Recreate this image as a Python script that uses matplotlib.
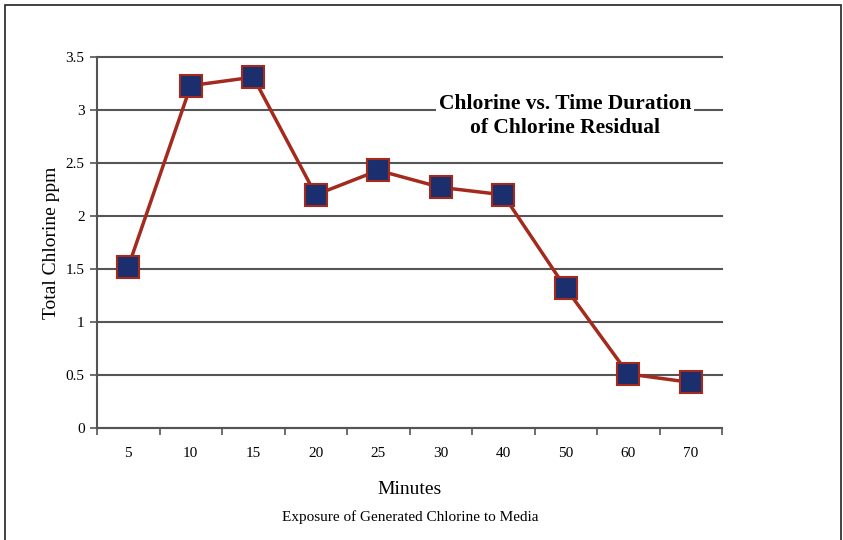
import matplotlib.pyplot as plt
from matplotlib.patches import Rectangle

plt.rcParams['font.family'] = ['Liberation Serif', 'DejaVu Serif']

minutes = ['5', '10', '15', '20', '25', '30', '40', '50', '60', '70']
chlorine = [1.52, 3.23, 3.31, 2.20, 2.43, 2.27, 2.20, 1.32, 0.51, 0.43]

W, H = 843, 540
fig = plt.figure(figsize=(W / 100, H / 100), dpi=100)
ax = fig.add_axes([97 / W, 1 - 428 / H, (722 - 97) / W, (428 - 57) / H])

# outer frame of the figure
fig.patches.append(Rectangle((5 / W, -0.05), 836 / W, 1.05 - 5 / H, transform=fig.transFigure,
                             fill=False, edgecolor='#222222', linewidth=1.2))

x = range(len(minutes))
ax.plot(x, chlorine, color='#a52a1e', linewidth=2.5, marker='s', markersize=16,
        markerfacecolor='#1b2f6e', markeredgecolor='#a52a1e', markeredgewidth=1.5, zorder=3)

ax.set_xlim(-0.5, len(minutes) - 0.5)
ax.set_ylim(0, 3.5)
ax.set_yticks([0, 0.5, 1, 1.5, 2, 2.5, 3, 3.5])
ax.set_yticklabels(['0', '0.5', '1', '1.5', '2', '2.5', '3', '3.5'])
ax.set_xticks(list(x))
ax.set_xticklabels(minutes)
ax.set_xticks([i - 0.5 for i in range(len(minutes) + 1)], minor=True)
ax.tick_params(axis='x', which='major', length=0, pad=14, labelsize=11)
ax.tick_params(axis='x', which='minor', length=5, width=1.2, color='#555555', direction='out')
ax.tick_params(axis='y', length=5, width=1.2, color='#555555', labelsize=11, pad=4)

ax.grid(axis='y', color='#555555', linewidth=1.5)
for gl in ax.get_ygridlines():
    gl.set_clip_on(False)
ax.set_axisbelow(True)
for s in ['top', 'right']:
    ax.spines[s].set_visible(False)
for s in ['left', 'bottom']:
    ax.spines[s].set_color('#555555')
    ax.spines[s].set_linewidth(1.5)

ax.set_ylabel('Total Chlorine ppm', fontsize=14, labelpad=4)
fig.text(410 / W, 1 - 490 / H, 'Minutes', ha='center', va='center', fontsize=14)
fig.text(410 / W, 1 - 517 / H, 'Exposure of Generated Chlorine to Media', ha='center', va='center', fontsize=11)

ax.text(565 / W, 1 - 116 / H, 'Chlorine vs. Time Duration\nof Chlorine Residual', transform=fig.transFigure,
        ha='center', va='center', fontsize=15.5, fontweight='bold', linespacing=1.3,
        bbox=dict(facecolor='white', edgecolor='none', pad=2), zorder=4)

fig.savefig('out.png', dpi=100)
